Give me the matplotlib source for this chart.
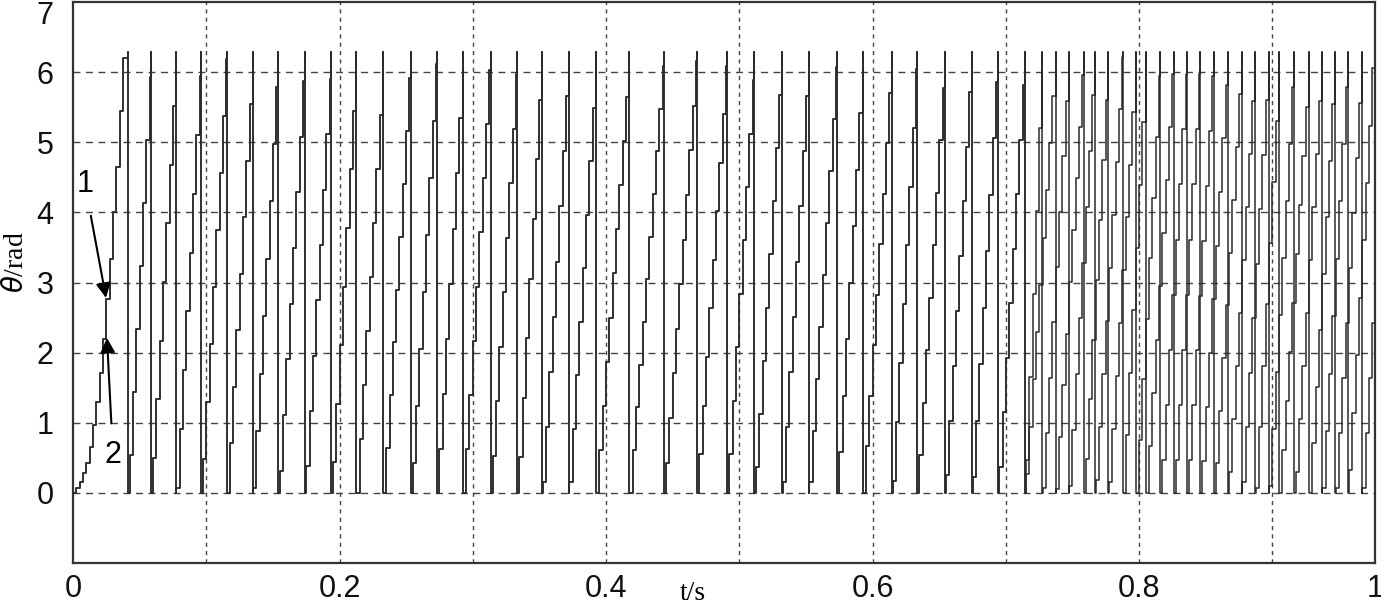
import numpy as np
import matplotlib
matplotlib.use("Agg")
import matplotlib.pyplot as plt
from matplotlib.transforms import ScaledTranslation

# ---- data ----
Ts = 0.0025  # hold (sample) period of the staircase, s
# first (start-up) cycle: held values at k*Ts
startup_vals = [0, 0.07, 0.15, 0.29, 0.43, 0.65, 0.97, 1.30, 1.71, 2.19,
                2.76, 3.33, 4.00, 4.65, 5.45, 6.20]
# wrap (2*pi -> 0) instants common to both curves, s
resets_common = [0.0410, 0.0585, 0.0773, 0.0960, 0.1153, 0.1348, 0.1540,
                 0.1738, 0.1937, 0.2125, 0.2329, 0.2537, 0.2730, 0.2930,
                 0.3133, 0.3335, 0.3520, 0.3720, 0.3926, 0.4175, 0.4433,
                 0.4680, 0.4907, 0.5113, 0.5320, 0.5520, 0.5732, 0.5927,
                 0.6145, 0.6332, 0.6542, 0.6743, 0.6938, 0.7140]
resets_curve1 = [0.7273, 0.7472, 0.7669, 0.7877, 0.8053, 0.8260, 0.8460,
                 0.8665, 0.8873, 0.9053, 0.9278, 0.9473, 0.9673]
resets_curve2 = [0.7373, 0.7586, 0.7770, 0.7978, 0.8160, 0.8360, 0.8561,
                 0.8770, 0.8972, 0.9165, 0.9373, 0.9565]

t_end = 0.977
x_ticks = [0, 0.1, 0.2, 0.3, 0.4, 0.5, 0.6, 0.7, 0.8, 0.9, t_end]
x_labels = ['0', '', '0.2', '', '0.4', '', '0.6', '', '0.8', '', '1']
y_ticks = [0, 1, 2, 3, 4, 5, 6, 7]
TWO_PI = 2 * np.pi


def build(resets):
    samples = np.arange(0, t_end, Ts)
    r = list(resets)
    vals = []
    for n, t in enumerate(samples):
        if t < r[0]:
            vals.append(startup_vals[min(n, len(startup_vals) - 1)])
            continue
        k = np.searchsorted(r, t, side='right') - 1
        if k + 1 < len(r):
            T = r[k + 1] - r[k]
        else:
            T = r[k] - r[k - 1]
        vals.append(min(TWO_PI * (t - r[k]) / T, TWO_PI - 0.05))
    events = [(t, 's', v) for t, v in zip(samples, vals)] + \
             [(t, 'r', None) for t in r]
    events.sort(key=lambda e: (e[0], 0 if e[1] == 'r' else 1))
    xs, ys = [0.0], [0.0]
    cur = 0.0
    for t, kind, v in events:
        if kind == 's':
            xs += [t, t]
            ys += [cur, v]
            cur = v
        else:
            xs += [t, t, t]
            ys += [cur, TWO_PI, 0.0]
            cur = 0.0
    xs.append(t_end)
    ys.append(cur)
    return np.array(xs), np.array(ys)


fig = plt.figure(figsize=(13.81, 6.04), dpi=100)
ax = fig.add_axes([73 / 1381, 1 - 563 / 604, (1375 - 73) / 1381, (563 - 2) / 604])

line_col = '#2b2b2b'
x1, y1 = build(resets_common + resets_curve1)
x2, y2 = build(resets_common + resets_curve2)
ax.plot(x2, y2, color=line_col, lw=1.1)
ax.plot(x1, y1, color=line_col, lw=1.1)

ax.set_xlim(0, t_end)
ax.set_ylim(-1, 7)
ax.set_xticks(x_ticks)
ax.set_xticklabels(x_labels, fontfamily='Liberation Sans', fontsize=22)
ax.set_yticks(y_ticks)
ax.set_yticklabels([str(v) for v in y_ticks], fontfamily='Liberation Sans', fontsize=22)
ax.tick_params(axis='both', length=0, pad=14, colors='#111111')
ax.tick_params(axis='x', pad=8)
# the top "7" sits slightly lower than the axis top, as in the reference
lab7 = ax.get_yticklabels()[-1]
lab7.set_transform(lab7.get_transform() + ScaledTranslation(0, -10 / 100, fig.dpi_scale_trans))

for xv in x_ticks[1:-1]:
    ax.axvline(xv, color='#444444', lw=1.0, ls=(0, (3, 3)), zorder=0.5)
for yv in range(0, 7):
    ax.axhline(yv, color='#444444', lw=1.0, ls=(0, (5, 4)), zorder=0.5)

for s in ax.spines.values():
    s.set_color('#333333')
    s.set_linewidth(1.6)

fig.text(16 / 1381, 1 - 262 / 604, r'$\theta$/rad', rotation=90,
         fontfamily='Liberation Serif', fontsize=20, ha='center', va='center')
ax.text(0.465, -1.44, 't/s', fontfamily='Liberation Serif', fontsize=20,
        ha='center', va='center', clip_on=False)

ax.annotate('1', xy=(0.0248, 2.78), xytext=(0.009, 4.40),
            fontfamily='Liberation Sans', fontsize=22, ha='center', va='center',
            arrowprops=dict(arrowstyle='-|>', color='black', lw=1.5,
                            mutation_scale=22, shrinkA=10, shrinkB=0))
ax.annotate('2', xy=(0.0255, 2.21), xytext=(0.030, 0.54),
            fontfamily='Liberation Sans', fontsize=22, ha='center', va='center',
            arrowprops=dict(arrowstyle='-|>', color='black', lw=1.5,
                            mutation_scale=22, shrinkA=10, shrinkB=0))

fig.savefig('out.png', dpi=100)
